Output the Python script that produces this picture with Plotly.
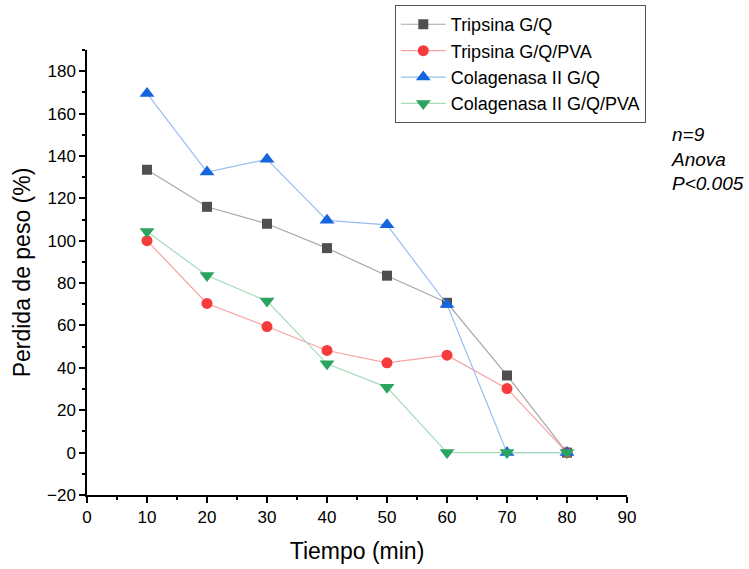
import plotly.graph_objects as go

tiempo = [10, 20, 30, 40, 50, 60, 70, 80]
tripsina_gq = [133.5, 116, 108, 96.5, 83.5, 70.7, 36.4, 0]
tripsina_gq_pva = [100, 70.4, 59.5, 48.2, 42.4, 46, 30.2, 0]
colagenasa_gq = [169.5, 132.4, 138.4, 109.6, 107.5, 69.9, 0, 0]
colagenasa_gq_pva = [104.3, 83.6, 71.5, 41.9, 30.8, 0, 0, 0]

series = [
    ("Tripsina G/Q", tripsina_gq, "square", "#505050", "#a8a8a8", 10),
    ("Tripsina G/Q/PVA", tripsina_gq_pva, "circle", "#f53b3b", "#f7a3a3", 11),
    ("Colagenasa II G/Q", colagenasa_gq, "triangle-up", "#1565dc", "#98bdf3", 13),
    ("Colagenasa II G/Q/PVA", colagenasa_gq_pva, "triangle-down", "#2ba45f", "#a5dcba", 13),
]

FONT = "Liberation Sans, Arial, sans-serif"

fig = go.Figure()
for name, vals, sym, mc, lc, ms in series:
    fig.add_trace(go.Scatter(
        x=tiempo, y=vals, name=name, mode="lines+markers",
        line=dict(color=lc, width=1.2),
        marker=dict(symbol=sym, color=mc, size=ms, line=dict(width=0)),
        cliponaxis=False,
    ))

axis_common = dict(
    showline=True, linecolor="black", linewidth=1.5,
    ticks="outside", ticklen=6, tickwidth=1.5, tickcolor="black",
    showgrid=False, zeroline=False, mirror=False,
    tickfont=dict(family=FONT, size=17, color="black"),
)

fig.update_layout(
    width=749, height=569,
    margin=dict(l=87, r=122, t=50, b=74, autoexpand=False),
    paper_bgcolor="white", plot_bgcolor="white",
    font=dict(family=FONT, color="black"),
    xaxis=dict(
        range=[0, 90], dtick=10, tick0=0,
        minor=dict(dtick=5, ticks="outside", ticklen=3, tickwidth=1.5, tickcolor="black"),
        title=dict(text="Tiempo (min)", font=dict(family=FONT, size=23), standoff=17),
        **axis_common,
    ),
    yaxis=dict(
        range=[-20, 190], tickvals=list(range(-20, 181, 20)),
        ticktext=["\u221220"] + [str(v) for v in range(0, 181, 20)],
        minor=dict(dtick=10, tick0=0, ticks="outside", ticklen=3, tickwidth=1.5, tickcolor="black"),
        title=dict(text="Perdida de peso (%)", font=dict(family=FONT, size=23), standoff=10),
        **axis_common,
    ),
    legend=dict(
        x=0.57, y=1.101, xanchor="left", yanchor="top",
        bordercolor="#555555", borderwidth=1, bgcolor="white",
        font=dict(family=FONT, size=18, color="black"),
        itemwidth=45, tracegroupgap=0,
    ),
    annotations=[dict(
        x=1.078, y=0.838, xref="paper", yref="paper", xanchor="left", yanchor="top",
        text="<i>n=9</i><br><i>Anova</i><br><i>P<0.005</i>", align="left",
        showarrow=False, font=dict(family=FONT, size=19, color="black"),
    )],
)

fig.write_html("out.html")
